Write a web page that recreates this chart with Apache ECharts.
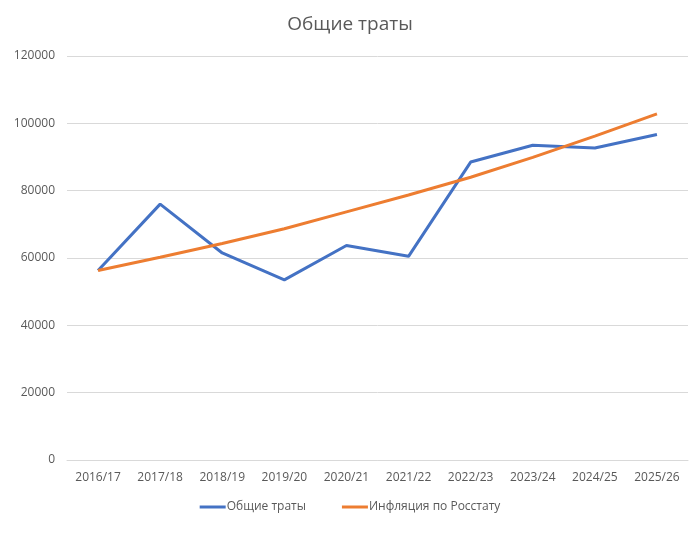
<!DOCTYPE html>
<html>
<head>
<meta charset="utf-8">
<script src="https://cdn.jsdelivr.net/npm/echarts@6/dist/echarts.min.js"></script>
<style>
  html, body { margin: 0; padding: 0; background: #fff; }
  #grafico { width: 700px; height: 533px; }
</style>
</head>
<body>
<div id="grafico"></div>
<script>
// Годы (категории оси X)
var years = ['2016/17', '2017/18', '2018/19', '2019/20', '2020/21',
             '2021/22', '2022/23', '2023/24', '2024/25', '2025/26'];
// Общие траты
var spending = [56300, 76000, 61500, 53500, 63700, 60500, 88500, 93500, 92700, 96700];
// Инфляция по Росстату
var inflation = [56300, 60200, 64300, 68700, 73700, 78700, 84000, 89900, 96200, 102800];

var myChart = echarts.init(document.getElementById('grafico'));

var font = '"Open Sans", "Noto Sans", sans-serif';

var option = {
    animation: false,
    color: ['#4472C4', '#ED7D31'],
    title: {
        text: 'Общие траты',
        left: 'center',
        top: 10,
        textStyle: { fontFamily: font, fontSize: 19, fontWeight: 'normal', color: '#595959' }
    },
    legend: {
        data: ['Общие траты', 'Инфляция по Росстату'],
        bottom: 15,
        left: 'center',
        icon: 'rect',
        itemWidth: 26,
        itemHeight: 3,
        itemGap: 36,
        textStyle: { fontFamily: font, fontSize: 12, color: '#595959', padding: [0, 0, 0, -4] }
    },
    grid: { left: 67, right: 12, top: 56, bottom: 73 },
    xAxis: {
        type: 'category',
        data: years,
        axisLine: { lineStyle: { color: '#d9d9d9' } },
        axisTick: { show: false },
        axisLabel: { interval: 0, fontFamily: font, fontSize: 12, color: '#595959', margin: 12 }
    },
    yAxis: {
        type: 'value',
        min: 0,
        max: 120000,
        interval: 20000,
        axisLine: { show: false },
        axisTick: { show: false },
        axisLabel: {
            fontFamily: font, fontSize: 12, color: '#595959', margin: 12,
            formatter: function (v) { return String(v); }
        },
        splitLine: { lineStyle: { color: '#d9d9d9' } }
    },
    series: [{
        name: 'Общие траты',
        type: 'line',
        data: spending,
        showSymbol: false,
        lineStyle: { width: 3 }
    }, {
        name: 'Инфляция по Росстату',
        type: 'line',
        data: inflation,
        showSymbol: false,
        lineStyle: { width: 3 }
    }]
};

myChart.setOption(option);
</script>
</body>
</html>
